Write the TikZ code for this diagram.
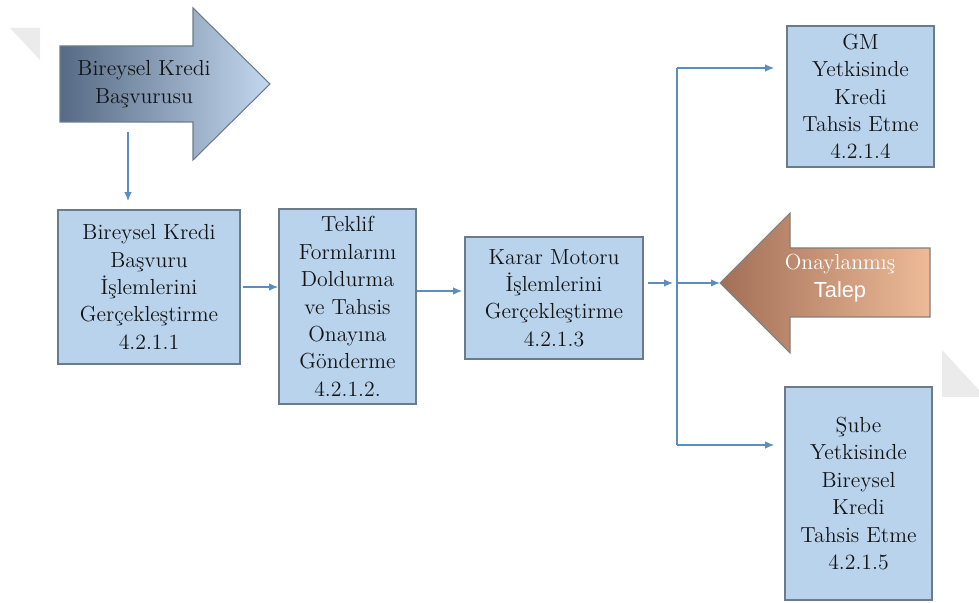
\documentclass[tikz,border=0pt]{standalone}
\usepackage{fontspec}
\newfontfamily\talepfont{Liberation Sans}
\usetikzlibrary{positioning}
\usetikzlibrary{arrows,arrows.meta}
\usetikzlibrary{calc}

\definecolor{kutumavi}{HTML}{B9D3EC}
\definecolor{kenar}{HTML}{6A7B8C}
\definecolor{okmavi}{HTML}{5B8DBF}
\definecolor{yazi}{HTML}{141414}
\definecolor{basKoyu}{HTML}{566A85}
\definecolor{basAcik}{HTML}{C3D8EE}
\definecolor{talKoyu}{HTML}{A36F57}
\definecolor{talAcik}{HTML}{EDBB98}
\definecolor{soluk}{HTML}{EBEBEB}

\begin{document}
\begin{tikzpicture}[auto, >={Latex[length=1.8mm,width=1.5mm]},
    kutu/.style={draw=kenar, line width=0.9pt, fill=kutumavi, align=center, text=yazi, inner sep=2pt},
    ok/.style={->, draw=okmavi, line width=0.8pt},
    every node/.append style={font=\rmfamily\fontsize{12.4}{15.6}\selectfont}]

    \useasboundingbox (0,0) rectangle (19.58,12.04);

    % kose golgeleri
    \fill[soluk] (0.2,11.48) -- (0.8,11.48) -- (0.8,10.84) -- cycle;
    \fill[soluk] (18.84,5.04) -- (19.58,4.24) -- (19.58,4.1) -- (18.84,4.1) -- cycle;

    % basvuru oku
    \draw[kenar, line width=0.6pt, left color=basKoyu, right color=basAcik] (1.2,9.6) -- (1.2,11.12) -- (3.86,11.12) -- (3.86,11.88) -- (5.4,10.36) -- (3.86,8.84) -- (3.86,9.6) -- cycle;
    \node[text=yazi, align=center] (basvuru) at (2.88,10.36) {Bireysel Kredi\\Başvurusu};

    % kutular
    \node[kutu, minimum width=3.64cm, minimum height=3.08cm] (islem) at (2.98,6.3) {Bireysel Kredi\\Başvuru\\İşlemlerini\\Gerçekleştirme\\4.2.1.1};
    \node[kutu, minimum width=2.74cm, minimum height=3.9cm] (teklif) at (6.95,5.91) {Teklif\\Formlarını\\Doldurma\\ve Tahsis\\Onayına\\Gönderme\\4.2.1.2.};
    \node[kutu, minimum width=3.56cm, minimum height=2.44cm] (karar) at (11.08,6.08) {Karar Motoru\\İşlemlerini\\Gerçekleştirme\\4.2.1.3};
    \node[kutu, minimum width=2.94cm, minimum height=2.82cm] (gm) at (17.21,10.11) {GM\\Yetkisinde\\Kredi\\Tahsis Etme\\4.2.1.4};
    \node[kutu, minimum width=2.94cm, minimum height=4.26cm] (sube) at (17.17,2.17) {Şube\\Yetkisinde\\Bireysel\\Kredi\\Tahsis Etme\\4.2.1.5};

    % oklar
    \coordinate (basAlt) at (2.56,9.6);
    \draw[ok, shorten <=0.2cm, shorten >=0.16cm] (basAlt) -- (basAlt |- islem.north);
    \draw[ok, shorten <=0.04cm] (islem.east) -- (islem.east -| teklif.west);
    \coordinate (j23) at (8.32,6.22);
    \draw[ok, shorten >=0.04cm] (teklif.east |- j23) -- (karar.west |- j23);

    \coordinate (catal) at (13.54,6.38);
    \coordinate (ust) at (13.54,10.68);
    \coordinate (alt) at (13.54,3.14);
    \coordinate (talepUc) at (14.4,6.38);
    \draw[ok, shorten <=0.08cm, shorten >=0.08cm] (karar.east |- catal) -- (catal);
    \draw[okmavi, line width=0.8pt] (ust) -- (alt);
    \draw[ok, shorten >=0.24cm] (ust) -- (gm.west |- ust);
    \draw[ok, shorten >=0.2cm] (alt) -- (sube.west |- alt);
    \draw[ok] (catal) -- (talepUc);

    % onaylanmis talep oku
    \draw[gray, line width=0.6pt, left color=talKoyu, right color=talAcik] (talepUc) -- (15.8,7.78) -- (15.8,7.08) -- (18.6,7.08) -- (18.6,5.7) -- (15.8,5.7) -- (15.8,4.98) -- cycle;
    \node[text=white, align=center] (talep) at (16.8,6.48) {Onaylanmış\\{\talepfont Talep}};
\end{tikzpicture}
\end{document}
